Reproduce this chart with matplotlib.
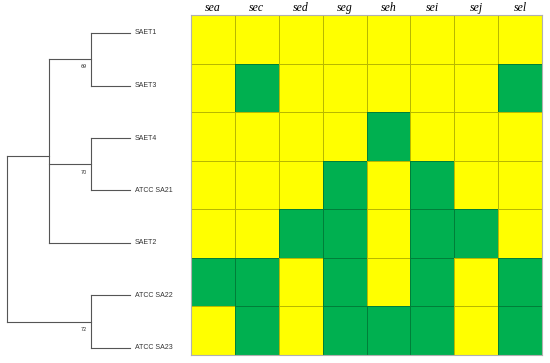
import numpy as np
import matplotlib
matplotlib.use('Agg')
import matplotlib.pyplot as plt
from matplotlib.colors import ListedColormap

genes = ['sea', 'sec', 'sed', 'seg', 'seh', 'sei', 'sej', 'sel']
strains = ['SAET1', 'SAET3', 'SAET4', 'ATCC SA21', 'SAET2', 'ATCC SA22', 'ATCC SA23']
# 1 = gene present (green), 0 = absent (yellow)
presence = [
    [0, 0, 0, 0, 0, 0, 0, 0],
    [0, 1, 0, 0, 0, 0, 0, 1],
    [0, 0, 0, 0, 1, 0, 0, 0],
    [0, 0, 0, 1, 0, 1, 0, 0],
    [0, 0, 1, 1, 0, 1, 1, 0],
    [1, 1, 0, 1, 0, 1, 0, 1],
    [0, 1, 0, 1, 1, 1, 0, 1],
]
# tree: (node depth, bootstrap label, children); leaves sit at depth 1
tree = (0.0, None, [
    (0.34, None, [
        (0.68, '69', ['SAET1', 'SAET3']),
        (0.68, '70', ['SAET4', 'ATCC SA21']),
        'SAET2']),
    (0.68, '72', ['ATCC SA22', 'ATCC SA23']),
])

W, H = 550, 363
fig = plt.figure(figsize=(W / 100, H / 100), dpi=100)

# ---- heatmap ----
ax = fig.add_axes([191 / W, (H - 355) / H, 351 / W, 340 / H])
cmap = ListedColormap(['#ffff00', '#00b050'])
ax.pcolormesh(np.array(presence), cmap=cmap, vmin=0, vmax=1,
              edgecolors=(0, 0, 0, 0.28), linewidth=0.6)
ax.set_xlim(0, len(genes))
ax.set_ylim(len(strains), 0)
ax.xaxis.tick_top()
ax.set_xticks(np.arange(len(genes)) + 0.5)
ax.set_xticklabels(genes, family='Liberation Serif', style='italic', fontsize=8.5)
ax.tick_params(axis='x', length=0, pad=1)
ax.set_yticks([])
for s in ax.spines.values():
    s.set_color('#b0b0b0')
    s.set_linewidth(0.8)

# ---- dendrogram ----
tx = fig.add_axes([0, 0, 190 / W, 1])
tx.axis('off')
leaf_px0, leaf_step = 33, 52.5
tx.set_ylim((H - leaf_px0) / leaf_step, -leaf_px0 / leaf_step)
tx.set_xlim(-7 / 123, 183 / 123)
lc = '#555555'


def draw(node):
    if isinstance(node, str):
        y = strains.index(node)
        tx.text(1.04, y, node, fontsize=5, family='Liberation Sans',
                color='#333333', va='center', ha='left')
        return 1.0, y
    depth, label, children = node
    ys = []
    for ch in children:
        cx, cy = draw(ch)
        tx.plot([depth, cx], [cy, cy], color=lc, lw=0.8)
        ys.append(cy)
    tx.plot([depth, depth], [min(ys), max(ys)], color=lc, lw=0.8)
    y = np.mean(ys)
    if label:
        tx.text(depth - 0.03, y + 0.1, label, fontsize=3.5, color='#333333',
                ha='right', va='top')
    return depth, y


draw(tree)

fig.savefig('out.png', dpi=100)
